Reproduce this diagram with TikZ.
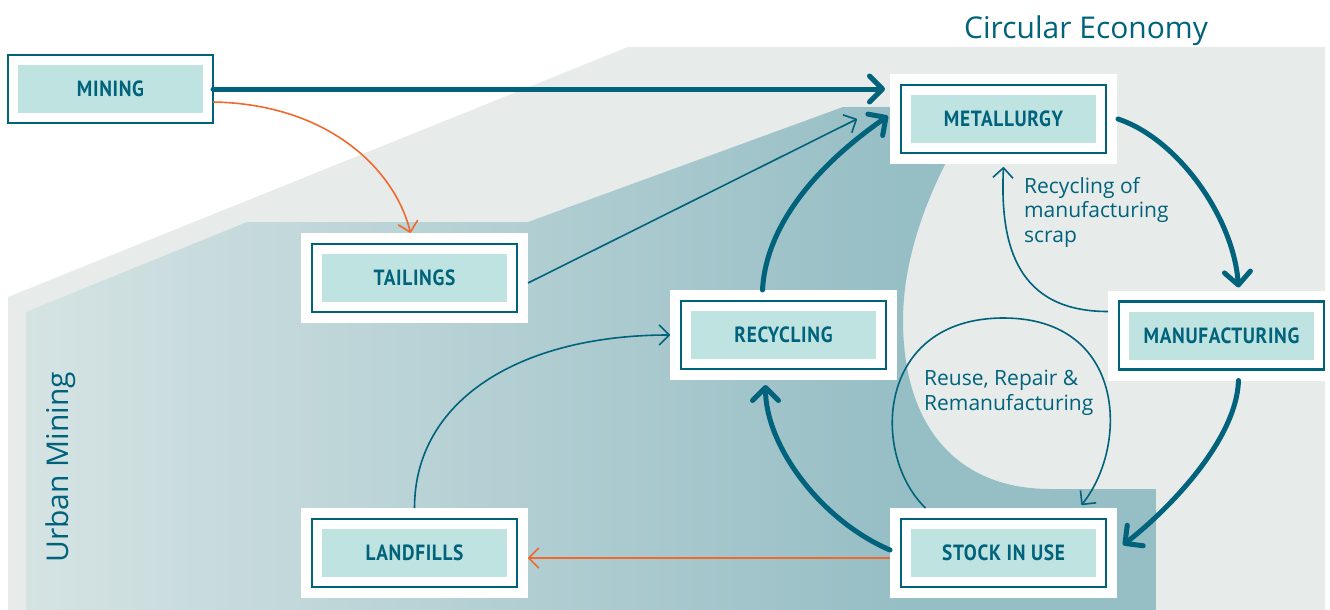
\documentclass[tikz,border=0pt]{standalone}
\usepackage{fontspec}
\setmainfont{Open Sans}
\newfontfamily\boxfont{PT Sans}[FakeStretch=0.88,LetterSpace=3]
\usetikzlibrary{arrows.meta,calc}
\definecolor{teal0}{RGB}{0,99,123}
\definecolor{boxfill}{RGB}{191,227,225}
\definecolor{orange0}{RGB}{240,106,45}
\definecolor{bggrey}{RGB}{231,235,234}
\definecolor{umL}{RGB}{213,227,227}
\definecolor{umR}{RGB}{150,190,197}
\pgfdeclarehorizontalshading{umshade}{100bp}{color(0bp)=(umL); color(25bp)=(umL); color(64bp)=(umR); color(100bp)=(umR)}
\begin{document}
\begin{tikzpicture}[x=1pt,y=-1pt,
  stage/.style={rectangle, minimum width=205pt, minimum height=68pt, inner sep=0pt, outer sep=0pt,
    fill=white, draw=teal0, line width=2.5pt,
    preaction={draw=white, line width=22pt},
    path picture={\fill[boxfill] ([shift={(10pt,10pt)}]path picture bounding box.south west) rectangle ([shift={(-10pt,-10pt)}]path picture bounding box.north east);},
    text=teal0, font=\boxfont\bfseries\fontsize{22}{24}\selectfont},
  thick arrow/.style={draw=teal0, line width=5pt, line cap=round,
    -{Straight Barb[length=13pt,width=26pt,line cap=round,line join=round]}},
  thin arrow/.style={draw=teal0, line width=1.6pt,
    -{Straight Barb[length=10pt,width=20pt,line join=round]}},
  orange arrow/.style={thin arrow, draw=orange0},
  note/.style={text=teal0, font=\fontsize{21}{24.5}\selectfont, align=left, inner sep=0pt},
  title/.style={text=teal0, font=\fontsize{30}{34}\selectfont, inner sep=0pt}]
\useasboundingbox (0,0) rectangle (1330,610);
% backgrounds
\fill[bggrey] (8,610) -- (8,297) -- (628,47) -- (1325,47) -- (1325,610) -- cycle;
\shade[shading=umshade] (26,610) -- (26,312) -- (247,222) -- (528,222) -- (843,107) -- (980,107)
   .. controls (935,170) and (903,250) .. (903,320)
   .. controls (903,430) and (960,489) .. (1050,489) -- (1156,489) -- (1156,610) -- cycle;
% titles
\node[title, anchor=base west] (ce) at (964,38) {Circular Economy};
\node[title, anchor=base west, rotate=90] (um) at (68,563) {Urban Mining};
% stages
\node[stage] (mining) at (110.5,89) {MINING};
\node[stage] (metallurgy) at (1003.5,119) {METALLURGY};
\node[stage] (tailings) at (414.5,278) {TAILINGS};
\node[stage] (recycling) at (783.5,335) {RECYCLING};
\node[stage] (manufacturing) at (1221.5,335.5) {MANUFACTURING};
\node[stage] (stock) at (1003.5,553) {STOCK IN USE};
\node[stage] (landfills) at (414.5,553) {LANDFILLS};
% notes (base = last line)
\node[note, anchor=base west] (scrapnote) at (1024,242) {Recycling of\\manufacturing\\scrap};
\node[note, anchor=base west] (reusenote) at (924,410) {Reuse, Repair \&\\Remanufacturing};
% connectors
\draw[thick arrow, shorten >=16pt] (mining.east) -- (metallurgy.west |- mining.east);
\draw[orange arrow] ([yshift=-13pt]mining.east) .. controls +(117,2) and +(-15,-62) .. ([xshift=-4pt,yshift=11pt]tailings.north);
\draw[thin arrow] ([xshift=11pt,yshift=-5pt]tailings.east) -- ([xshift=-44pt]metallurgy.west);
\draw[thick arrow] ([xshift=-21pt,yshift=11pt]recycling.north) .. controls +(4,-75) and +(-55,38) .. ([xshift=-13pt,yshift=3pt]metallurgy.west);
\draw[thick arrow] ([xshift=12pt]metallurgy.east) .. controls +(60,20) and +(-5,-70) .. ([xshift=17pt,yshift=14pt]manufacturing.north);
\draw[thin arrow] ([xshift=-11pt,yshift=24pt]manufacturing.west) .. controls +(-90,0) and +(-4,80) .. ([yshift=-14pt]metallurgy.south);
\draw[thick arrow] ([xshift=17pt,yshift=-11pt]manufacturing.south) .. controls +(-2,60) and +(45,-35) .. ([xshift=17pt,yshift=8pt]stock.east);
\draw[thick arrow] ([xshift=-11pt,yshift=3pt]stock.west) .. controls +(-70,-30) and +(0,60) .. ([xshift=-18pt,yshift=-16pt]recycling.south);
\draw[thin arrow] ([xshift=-78pt,yshift=11pt]stock.north) .. controls +(-55,-53) and +(-128,0) .. ([yshift=201pt]stock.north)
   .. controls +(122,0) and +(48,-60) .. ([xshift=78pt,yshift=14pt]stock.north);
\draw[thin arrow] ([yshift=11pt]landfills.north) .. controls +(0,-108) and +(-150,0) .. ([xshift=-11pt]recycling.west);
\draw[orange arrow] ([xshift=-11pt,yshift=-5pt]stock.west) -- ([xshift=11pt,yshift=-5pt]landfills.east);
\end{tikzpicture}
\end{document}
